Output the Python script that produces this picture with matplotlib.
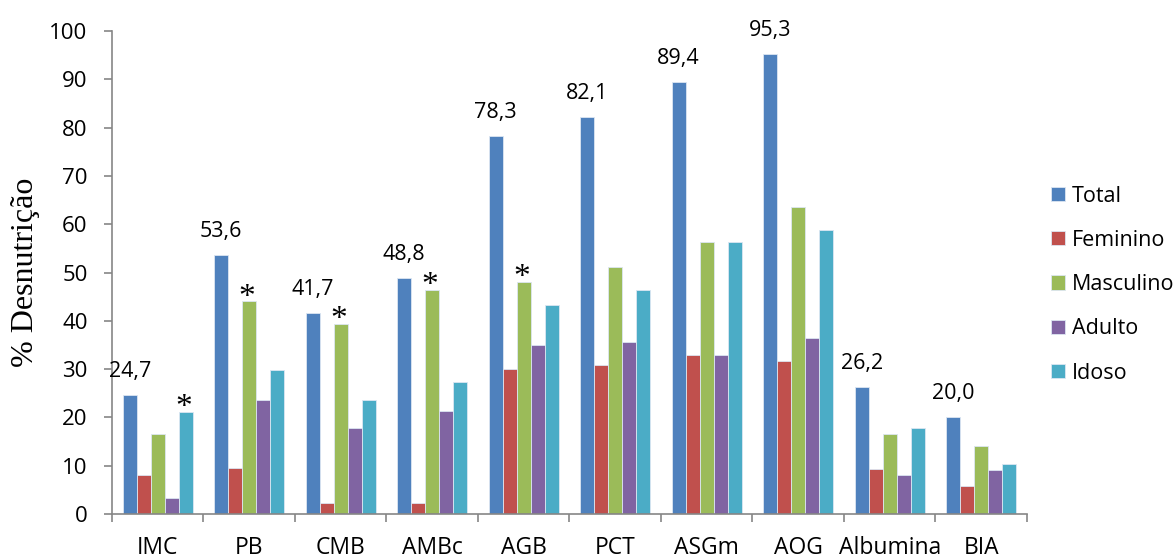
import matplotlib.pyplot as plt
import numpy as np

plt.rcParams['font.family'] = ['Open Sans', 'DejaVu Sans']

categories = ['IMC', 'PB', 'CMB', 'AMBc', 'AGB', 'PCT', 'ASGm', 'AOG', 'Albumina', 'BIA']
groups = ['Total', 'Feminino', 'Masculino', 'Adulto', 'Idoso']
total = [24.7, 53.6, 41.7, 48.8, 78.3, 82.1, 89.4, 95.3, 26.2, 20.0]
feminino = [8.1, 9.5, 2.3, 2.3, 30.0, 30.9, 32.9, 31.6, 9.3, 5.9]
masculino = [16.5, 44.0, 39.3, 46.4, 48.1, 51.1, 56.4, 63.5, 16.6, 14.0]
adulto = [3.4, 23.7, 17.9, 21.3, 34.9, 35.6, 32.9, 36.4, 8.1, 9.2]
idoso = [21.1, 29.8, 23.7, 27.3, 43.3, 46.4, 56.4, 58.8, 17.9, 10.4]
# (category, group) pairs flagged as significant
significant = [('IMC', 'Idoso'), ('PB', 'Masculino'), ('CMB', 'Masculino'),
               ('AMBc', 'Masculino'), ('AGB', 'Masculino')]

colors = ['#4F81BD', '#C0504D', '#9BBB59', '#8064A2', '#4BACC6']
series = [total, feminino, masculino, adulto, idoso]

fig = plt.figure(figsize=(11.76, 5.59), dpi=100)
ax = fig.add_axes([0.0952, 0.0805, 0.778, 0.864])

x = np.arange(len(categories))
width = 0.153
for i, (name, vals, c) in enumerate(zip(groups, series, colors)):
    offset = (i - 2) * width
    ax.bar(x + offset, vals, width, color=c, edgecolor='#dce6f2',
           linewidth=0.6, label=name)

# value labels on the Total bars
for xi, v in zip(x - 2 * width, total):
    ax.annotate(f'{v:.1f}'.replace('.', ','), (xi, v), xytext=(0, 13),
                textcoords='offset points', ha='center', va='baseline', fontsize=15.5)

# asterisks over the significant bars
for cat, grp in significant:
    ci = categories.index(cat)
    gi = groups.index(grp)
    v = series[gi][ci]
    ax.annotate('*', (x[ci] + (gi - 2) * width, v), xytext=(-1.5, -3),
                textcoords='offset points', ha='center', va='baseline',
                fontsize=24, family='Liberation Serif')

ax.set_xlim(-0.5, len(categories) - 0.5)
ax.set_ylim(0, 100)
ax.set_yticks(range(0, 101, 10))
ax.set_xticks(np.arange(-0.5, len(categories), 1.0))
ax.set_xticklabels([])
ax.set_xticks(x, minor=True)
ax.set_xticklabels(categories, minor=True)
ax.tick_params(axis='x', which='major', length=6, color='#868686', width=1.2)
ax.tick_params(axis='x', which='minor', length=0, pad=16, labelsize=16.5)
ax.tick_params(axis='y', length=5.5, color='#868686', width=1.2, labelsize=16, pad=12)

for s in ['top', 'right']:
    ax.spines[s].set_visible(False)
for s in ['left', 'bottom']:
    ax.spines[s].set_color('#868686')
    ax.spines[s].set_linewidth(1.2)

ax.set_ylabel('% Desnutrição', family='Liberation Serif', fontsize=23)
ax.yaxis.set_label_coords(-0.0787, 0.5)

fig.legend(loc='upper left', bbox_to_anchor=(0.8937, 0.668), frameon=False,
           fontsize=15.5, handlelength=0.65, handleheight=0.65, handletextpad=0.33,
           labelspacing=1.08, borderaxespad=0, borderpad=0)

plt.savefig('out.png', dpi=100)
